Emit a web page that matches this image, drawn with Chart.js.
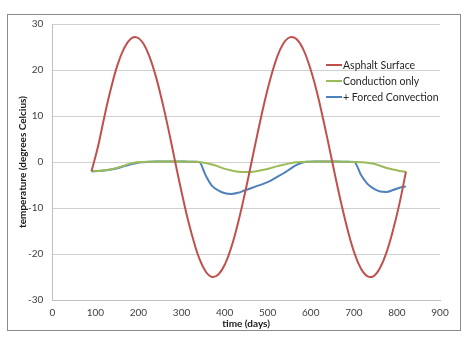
<!DOCTYPE html>
<html>
<head>
<meta charset="utf-8">
<script src="https://cdn.jsdelivr.net/npm/chart.js@4/dist/chart.umd.min.js"></script>
<style>
  html, body { margin: 0; padding: 0; background: #fff; }
  #wrap { position: relative; width: 472px; height: 345px; }
</style>
</head>
<body>
<div id="wrap"><canvas id="chart" width="472" height="345"></canvas></div>
<script>
// time (days) shared by all three series
const days = [91, 106, 121, 136, 151, 166, 181, 196, 211, 226, 241, 256, 271, 286, 301, 316, 331, 341,
  356, 371, 386, 401, 416, 431, 446, 461, 476, 491, 506, 521, 536, 551, 566, 581, 596, 611, 626, 641,
  656, 671, 686, 701, 716, 731, 746, 761, 776, 791, 806, 821];

const asphaltSurface = [-2, 3.3, 9.9, 15.9, 21.0, 24.6, 26.7, 27.1, 25.8, 22.8, 18.4, 12.8, 6.5, -0.3,
  -6.9, -13.0, -18.1, -20.9, -23.8, -25.0, -24.4, -22.2, -18.4, -13.3, -7.3, -0.7, 6.0, 12.4, 18.0,
  22.6, 25.7, 27.1, 26.8, 24.8, 21.2, 16.4, 10.5, 4.0, -2.7, -9.1, -14.9, -19.7, -23.1, -24.8, -24.8,
  -23.0, -19.6, -14.8, -9.0, -2.1];

const conductionOnly = [-2.0, -1.95, -1.8, -1.6, -1.25, -0.8, -0.35, -0.05, 0.0, 0.05, 0.1, 0.12, 0.12,
  0.12, 0.1, 0.08, 0.05, 0.0, -0.2, -0.55, -1.0, -1.5, -1.85, -2.1, -2.2, -2.15, -1.95, -1.7, -1.35,
  -0.95, -0.6, -0.3, -0.05, 0.0, 0.05, 0.1, 0.12, 0.12, 0.1, 0.08, 0.05, 0.0, -0.05, -0.15, -0.4, -0.8,
  -1.3, -1.65, -1.95, -2.15];

const forcedConvection = [-2.0, -1.95, -1.85, -1.65, -1.35, -0.95, -0.55, -0.2, -0.05, 0.05, 0.1, 0.12,
  0.12, 0.12, 0.1, 0.08, 0.05, 0.0, -2.9, -5.2, -6.2, -6.8, -6.95, -6.7, -6.2, -5.7, -5.2, -4.7, -4.1,
  -3.3, -2.5, -1.6, -0.7, -0.1, 0.05, 0.1, 0.12, 0.12, 0.1, 0.08, 0.05, 0.0, -2.7, -4.7, -5.8, -6.4,
  -6.5, -6.1, -5.6, -5.3];

const seriesNames = ['Asphalt Surface', 'Conduction only', '+ Forced Convection'];
const seriesColors = ['#C0504D', '#9BBB59', '#4F81BD'];
const xTicks = [0, 100, 200, 300, 400, 500, 600, 700, 800, 900];
const yTicks = [-30, -20, -10, 0, 10, 20, 30];

const FONT = 'Lato, "Open Sans", sans-serif';
const toPoints = (vals) => days.map((d, i) => ({ x: d, y: vals[i] }));

// outer frame around the whole chart
const frame = {
  id: 'frame',
  afterDraw(chart) {
    const ctx = chart.ctx;
    ctx.save();
    ctx.strokeStyle = '#8a8a8a';
    ctx.lineWidth = 1;
    ctx.strokeRect(7.5, 14.5, 453, 316);
    ctx.restore();
  },
};

// legend sits inside the plot, upper right
const insideLegend = {
  id: 'insideLegend',
  afterDatasetsDraw(chart) {
    const { ctx, chartArea } = chart;
    const x0 = chartArea.right - 114;
    ctx.save();
    ctx.font = '10.5px ' + FONT;
    ctx.textBaseline = 'middle';
    ctx.fillStyle = '#262626';
    chart.data.datasets.forEach((ds, i) => {
      const y = chartArea.top + 41 + i * 16;
      ctx.strokeStyle = ds.borderColor;
      ctx.lineWidth = 2;
      ctx.beginPath();
      ctx.moveTo(x0, y);
      ctx.lineTo(x0 + 16, y);
      ctx.stroke();
      ctx.fillText(ds.label, x0 + 17, y + 0.5);
    });
    ctx.restore();
  },
};

new Chart(document.getElementById('chart'), {
  type: 'line',
  data: {
    datasets: [asphaltSurface, conductionOnly, forcedConvection].map((vals, i) => ({
      label: seriesNames[i],
      data: toPoints(vals),
      borderColor: seriesColors[i],
      backgroundColor: seriesColors[i],
      borderWidth: 2,
      pointRadius: 0,
      // the sine-like surface curve reads better with plain bezier smoothing
      cubicInterpolationMode: i === 0 ? 'default' : 'monotone',
      tension: 0.4,
      fill: false,
    })),
  },
  options: {
    responsive: false,
    animation: false,
    layout: { padding: { left: 8, right: 32, top: 24, bottom: 14 } },
    plugins: { legend: { display: false }, tooltip: { enabled: false } },
    scales: {
      x: {
        type: 'linear',
        min: 0,
        max: 900,
        afterFit: (s) => { s.height = 31; },
        afterBuildTicks: (s) => { s.ticks = xTicks.map((v) => ({ value: v })); },
        grid: { display: false, drawTicks: false },
        border: { display: true, color: '#bfbfbf', width: 1 },
        ticks: { padding: 7, color: '#404040', font: { family: FONT, size: 10 } },
        title: {
          display: true,
          text: 'time (days)',
          color: '#1a1a1a',
          font: { family: FONT, size: 10, weight: 'bold' },
          padding: { top: 0, bottom: 1 },
        },
      },
      y: {
        min: -30,
        max: 30,
        afterFit: (s) => { s.width = 44.3; },
        afterBuildTicks: (s) => { s.ticks = yTicks.map((v) => ({ value: v })); },
        grid: { color: '#d0d0d0', lineWidth: 1, drawTicks: false },
        border: { display: true, color: '#bfbfbf', width: 1 },
        ticks: { padding: 9, color: '#404040', font: { family: FONT, size: 10 } },
        title: {
          display: true,
          text: 'temperature (degrees Celcius)',
          color: '#1a1a1a',
          font: { family: FONT, size: 10, weight: 'bold' },
          padding: { top: 9, bottom: 0 },
        },
      },
    },
  },
  plugins: [frame, insideLegend],
});
</script>
</body>
</html>
